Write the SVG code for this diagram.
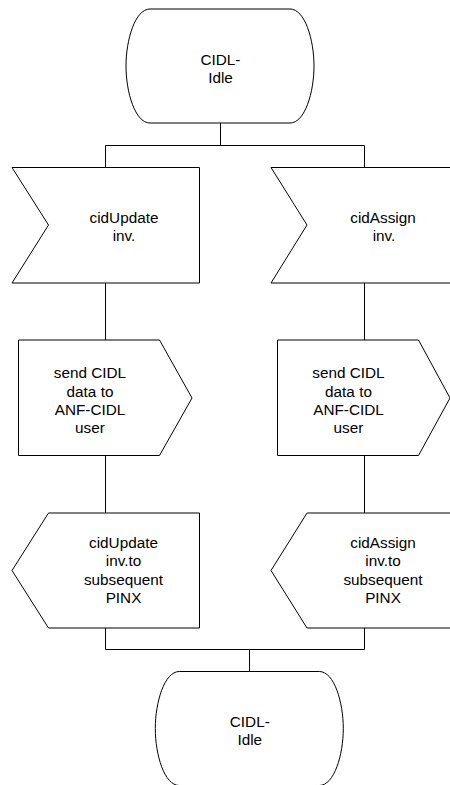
<svg xmlns="http://www.w3.org/2000/svg" width="450" height="785" viewBox="0 0 450 785">
<style>
.s{fill:#fff;stroke:#000;stroke-width:1}
.c{fill:none;stroke:#000;stroke-width:1}
text{font-family:"Liberation Sans",Arial,sans-serif;font-size:15.3px;fill:#000;text-anchor:middle}
</style>
<rect width="450" height="785" fill="#fff"/>
<g id="connectors">
<path class="c" d="M220.5,123 V145.5 M105.5,145.5 H364.5 M105.5,145.5 V167.5 M364.5,145.5 V167.5"/>
<path class="c" d="M105.5,283 V340 M364.5,283 V340"/>
<path class="c" d="M105.5,455.5 V513 M364.5,455.5 V513"/>
<path class="c" d="M105.5,628 V649.5 H364.5 V628 M249.5,649.5 V671.5"/>
</g>
<g id="state-top">
<path class="s" d="M150,9 L290,9 C305,9 314,40 314,66 C314,92 305,123 290,123 L150,123 C135,123 126,92 126,66 C126,40 135,9 150,9 Z"/>
<text x="220.5" y="65">CIDL-</text>
<text x="220.5" y="83.3">Idle</text>
</g>
<g id="input-update">
<polygon class="s" points="12,167.5 199.5,167.5 199.5,283 12,283 48.5,225"/>
<text x="124" y="222.7">cidUpdate</text>
<text x="124" y="241">inv.</text>
</g>
<g id="input-assign">
<polygon class="s" points="271,167.5 458,167.5 458,283 271,283 307,225"/>
<text x="383" y="222.7">cidAssign</text>
<text x="384" y="241">inv.</text>
</g>
<g id="output-left">
<polygon class="s" points="18.5,340 159.5,340 192,398 159.5,455.5 18.5,455.5"/>
<text x="90" y="378.3">send CIDL</text>
<text x="90" y="396.6">data to</text>
<text x="90" y="414.9">ANF-CIDL</text>
<text x="90" y="433.2">user</text>
</g>
<g id="output-right">
<polygon class="s" points="277.5,340 418.5,340 450,398 418.5,455.5 277.5,455.5"/>
<text x="348.5" y="378.3">send CIDL</text>
<text x="348.5" y="396.6">data to</text>
<text x="348.5" y="414.9">ANF-CIDL</text>
<text x="348.5" y="433.2">user</text>
</g>
<g id="send-update">
<polygon class="s" points="48.5,513 199.5,513 199.5,628 48.5,628 12,570.5"/>
<text x="123.5" y="548">cidUpdate</text>
<text x="123.5" y="566.3">inv.to</text>
<text x="123.5" y="584.6">subsequent</text>
<text x="123.5" y="602.9">PINX</text>
</g>
<g id="send-assign">
<polygon class="s" points="307,513 458,513 458,628 307,628 271,570.5"/>
<text x="383" y="548">cidAssign</text>
<text x="383" y="566.3">inv.to</text>
<text x="383" y="584.6">subsequent</text>
<text x="383" y="602.9">PINX</text>
</g>
<g id="state-bottom" transform="translate(29.3,662.5)">
<path class="s" d="M150,9 L290,9 C305,9 314,40 314,66 C314,92 305,123 290,123 L150,123 C135,123 126,92 126,66 C126,40 135,9 150,9 Z"/>
<text x="220.5" y="64">CIDL-</text>
<text x="220.5" y="82.3">Idle</text>
</g>
</svg>
